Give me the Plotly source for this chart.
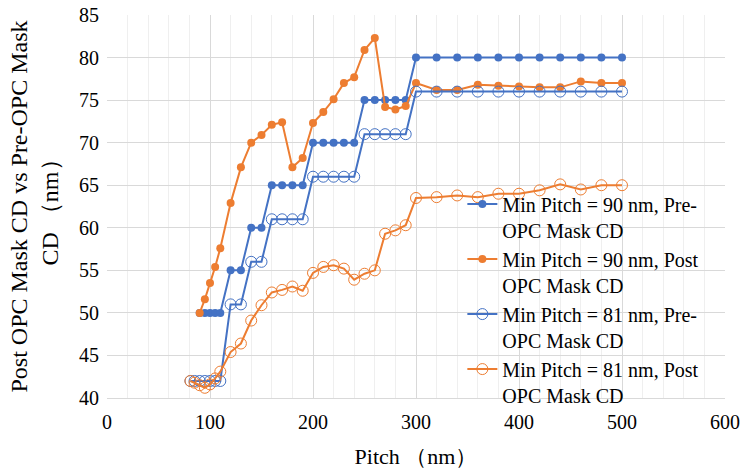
import plotly.graph_objects as go

# Pitch sampling (nm)
pitch_90 = [90, 95, 100, 105, 110, 120, 130, 140, 150, 160, 170, 180, 190,
            200, 210, 220, 230, 240, 250, 260, 270, 280, 290,
            300, 320, 340, 360, 380, 400, 420, 440, 460, 480, 500]
pitch_81 = [81, 85, 90, 95, 100, 105, 110, 120, 130, 140, 150, 160, 170, 180, 190,
            200, 210, 220, 230, 240, 250, 260, 270, 280, 290,
            300, 320, 340, 360, 380, 400, 420, 440, 460, 480, 500]

# Mask CD values (nm)
pre_opc_90 = [50, 50, 50, 50, 50, 55, 55, 60, 60, 65, 65, 65, 65,
              70, 70, 70, 70, 70, 75, 75, 75, 75, 75,
              80, 80, 80, 80, 80, 80, 80, 80, 80, 80, 80]
post_opc_90 = [50.0, 51.6, 53.5, 55.4, 57.6, 62.9, 67.1, 70.0, 70.9, 72.1, 72.4, 67.1, 68.2,
               72.3, 73.6, 75.1, 77.0, 77.7, 80.9, 82.3, 74.2, 73.9, 74.3,
               77.0, 76.2, 76.2, 76.8, 76.7, 76.6, 76.5, 76.5, 77.2, 77.0, 77.0]
pre_opc_81 = [42, 42, 42, 42, 42, 42, 42, 51, 51, 56, 56, 61, 61, 61, 61,
              66, 66, 66, 66, 66, 71, 71, 71, 71, 71,
              76, 76, 76, 76, 76, 76, 76, 76, 76, 76, 76]
post_opc_81 = [42.0, 41.8, 41.5, 41.2, 41.6, 42.3, 43.1, 45.4, 46.4, 49.1, 50.9, 52.4, 52.7, 53.1, 52.6,
               54.7, 55.4, 55.6, 55.2, 53.9, 54.6, 55.0, 59.3, 59.7, 60.3,
               63.5, 63.6, 63.8, 63.6, 64.0, 64.0, 64.4, 65.1, 64.5, 65.0, 65.0]

series_names = [
    "Min Pitch = 90 nm, Pre-<br>OPC Mask CD",
    "Min Pitch = 90 nm, Post<br>OPC Mask CD",
    "Min Pitch = 81 nm, Pre-<br>OPC Mask CD",
    "Min Pitch = 81 nm, Post<br>OPC Mask CD",
]

BLUE = "#4472C4"
ORANGE = "#ED7D31"
SERIF = "Liberation Serif"

fig = go.Figure()
fig.add_trace(go.Scatter(x=pitch_90, y=pre_opc_90, name=series_names[0], mode="lines+markers",
                         line=dict(color=BLUE, width=2),
                         marker=dict(symbol="circle", size=8, color=BLUE)))
fig.add_trace(go.Scatter(x=pitch_90, y=post_opc_90, name=series_names[1], mode="lines+markers",
                         line=dict(color=ORANGE, width=2),
                         marker=dict(symbol="circle", size=8, color=ORANGE)))
fig.add_trace(go.Scatter(x=pitch_81, y=pre_opc_81, name=series_names[2], mode="lines+markers",
                         line=dict(color=BLUE, width=2),
                         marker=dict(symbol="circle-open", size=11, color=BLUE, line=dict(width=1))))
fig.add_trace(go.Scatter(x=pitch_81, y=post_opc_81, name=series_names[3], mode="lines+markers",
                         line=dict(color=ORANGE, width=2),
                         marker=dict(symbol="circle-open", size=11, color=ORANGE, line=dict(width=1))))

fig.update_layout(
    width=743, height=470,
    margin=dict(l=107, r=18, t=15, b=72, autoexpand=False),
    paper_bgcolor="white", plot_bgcolor="white",
    font=dict(family=SERIF, size=20, color="#000000"),
    showlegend=True,
    legend=dict(x=0.575, xanchor="left", y=0.257, yanchor="middle",
                bgcolor="rgba(0,0,0,0)", valign="top", itemwidth=30,
                font=dict(family=SERIF, size=20, color="#000000")),
)
fig.update_xaxes(
    range=[0, 600], dtick=100, tick0=0, automargin=False,
    showgrid=True, gridcolor="#D9D9D9", gridwidth=1,
    minor=dict(dtick=20, showgrid=True, gridcolor="#EFEFEF", gridwidth=1),
    zeroline=False, showline=True, linecolor="#D9D9D9", mirror=False,
    ticklabelstandoff=6,
    title=dict(text="Pitch （nm）", font=dict(family=SERIF, size=22, color="#000000"), standoff=16),
    tickfont=dict(family=SERIF, size=20, color="#000000"),
)
fig.update_yaxes(
    range=[40, 85], dtick=5, tick0=40, automargin=False,
    showgrid=True, gridcolor="#D9D9D9", gridwidth=1,
    zeroline=False, showline=False,
    ticklabelstandoff=7,
    title=dict(text="Post OPC Mask CD vs Pre-OPC Mask<br>CD （nm）",
               font=dict(family=SERIF, size=24, color="#000000"), standoff=13),
    tickfont=dict(family=SERIF, size=20, color="#000000"),
)

fig.write_html("out.html")
